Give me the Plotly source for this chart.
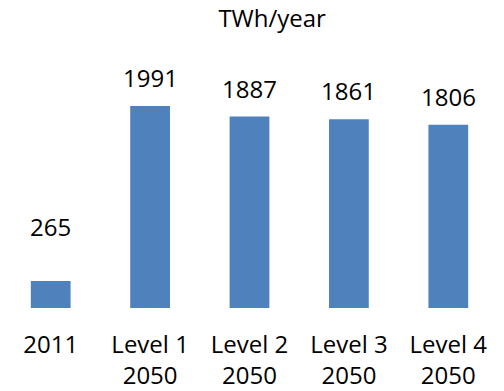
import plotly.graph_objects as go

# Electricity demand by scenario
categories = ["2011", "Level 1<br>2050", "Level 2<br>2050", "Level 3<br>2050", "Level 4<br>2050"]
demand_twh = [265, 1991, 1887, 1861, 1806]

# extra vertical lift (px) for individual value labels
label_lift = {0: 26}

BAR_COLOR = "#4F81BD"
FONT = "Open Sans"

positions = list(range(len(categories)))

fig = go.Figure(
    go.Bar(
        x=positions,
        y=demand_twh,
        width=0.4,
        marker=dict(color=BAR_COLOR, line=dict(width=0)),
        hovertext=[c.replace("<br>", " ") for c in categories],
        hoverinfo="text+y",
    )
)

for i, val in zip(positions, demand_twh):
    fig.add_annotation(
        x=i, y=val, text=str(val), showarrow=False,
        xanchor="center", yanchor="bottom",
        yshift=10 + label_lift.get(i, 0),
        font=dict(family=FONT, size=24, color="#000000"),
    )

fig.update_layout(
    width=504, height=391,
    margin=dict(l=1, r=6, t=60, b=83),
    paper_bgcolor="white", plot_bgcolor="white",
    showlegend=False,
    font=dict(family=FONT, size=24, color="#000000"),
    title=dict(
        text="TWh/year", x=0.54, xanchor="center", xref="container",
        y=0.975, yanchor="top", yref="container",
        font=dict(family=FONT, size=24, color="#000000"),
    ),
    xaxis=dict(
        range=[-0.5, len(categories) - 0.5],
        tickvals=positions, ticktext=categories,
        showgrid=False, zeroline=False, showline=False, ticks="",
        tickfont=dict(family=FONT, size=24, color="#000000"),
        ticklabelstandoff=20,
    ),
    yaxis=dict(
        range=[0, 2444], visible=False, showgrid=False, zeroline=False,
    ),
)

fig.write_html("out.html")
